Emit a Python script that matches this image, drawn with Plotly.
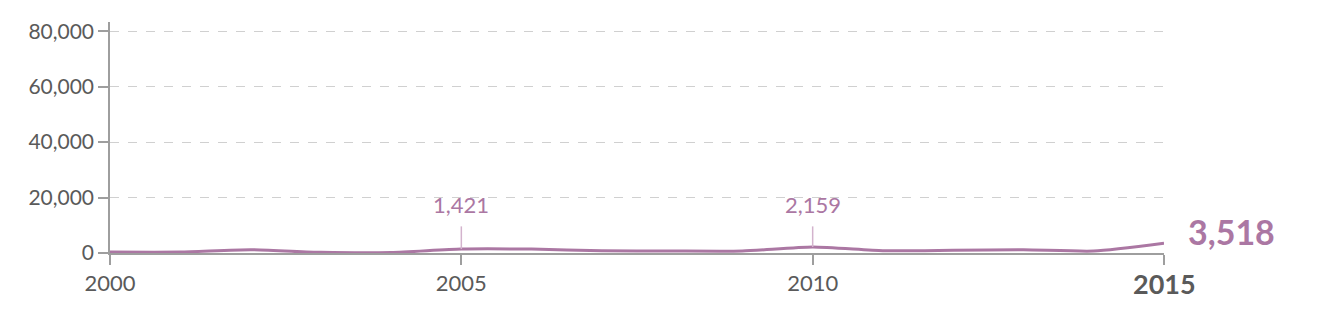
import plotly.graph_objects as go

years = list(range(2000, 2016))
values = [330, 340, 1170, 230, 150, 1421, 1400, 810, 700, 700, 2159, 810, 950, 1170, 700, 3518]
labeled_years = [2005, 2010]
y_tick_vals = [0, 20000, 40000, 60000, 80000]
y_tick_text = ["0", "20,000", "40,000", "60,000", "80,000"]
x_tick_vals = [2000, 2005, 2010, 2015]
x_tick_text = ["2000", "2005", "2010", ""]

LINE = "#ab77a3"
GRAY = "#5a5a5a"
FONT = "Lato"

fig = go.Figure()
fig.add_trace(go.Scatter(
    x=years, y=values, mode="lines",
    line=dict(color=LINE, width=3, shape="spline", smoothing=0.6),
    hoverinfo="skip", showlegend=False,
))

annotations = []
shapes = []
for yr in labeled_years:
    v = values[years.index(yr)]
    shapes.append(dict(type="line", xref="x", yref="y", x0=yr, x1=yr, y0=v, y1=9600,
                       line=dict(color="#d3b3cd", width=1.5)))
    annotations.append(dict(x=yr, y=9600, xref="x", yref="y", text=f"{v:,}",
                            showarrow=False, yanchor="bottom", yshift=6,
                            font=dict(family=FONT, size=22, color=LINE, weight=400)))

annotations.append(dict(x=years[-1], y=values[-1], xref="x", yref="y", text=f"{values[-1]:,}",
                        showarrow=False, xanchor="left", yanchor="middle", xshift=22, yshift=12,
                        font=dict(family=FONT, size=34, color=LINE, weight=700)))
annotations.append(dict(x=years[-1], y=0, xref="x", yref="y", text=str(years[-1]),
                        showarrow=False, xanchor="center", yanchor="top", yshift=-12,
                        font=dict(family=FONT, size=27, color=GRAY, weight=700)))

fig.update_layout(
    width=1320, height=318,
    margin=dict(l=110, r=156, t=22, b=65),
    paper_bgcolor="white", plot_bgcolor="white",
    font=dict(family=FONT, color=GRAY),
    annotations=annotations, shapes=shapes,
    xaxis=dict(
        range=[2000, 2015], tickvals=x_tick_vals, ticktext=x_tick_text,
        showgrid=False, zeroline=False, showline=True, linecolor="#9e9e9e", linewidth=1.5,
        ticks="outside", ticklen=10, tickwidth=1.5, tickcolor="#9e9e9e",
        tickfont=dict(family=FONT, size=22, color=GRAY, weight=400),
    ),
    yaxis=dict(
        range=[0, 83300], tickvals=y_tick_vals, ticktext=y_tick_text,
        showgrid=True, gridcolor="#d0d0d0", griddash="dash", gridwidth=1,
        zeroline=False, showline=True, linecolor="#9e9e9e", linewidth=1.5,
        ticks="outside", ticklen=10, tickwidth=1.5, tickcolor="#9e9e9e",
        tickfont=dict(family=FONT, size=21, color=GRAY, weight=400),
    ),
)

fig.write_html("out.html")
